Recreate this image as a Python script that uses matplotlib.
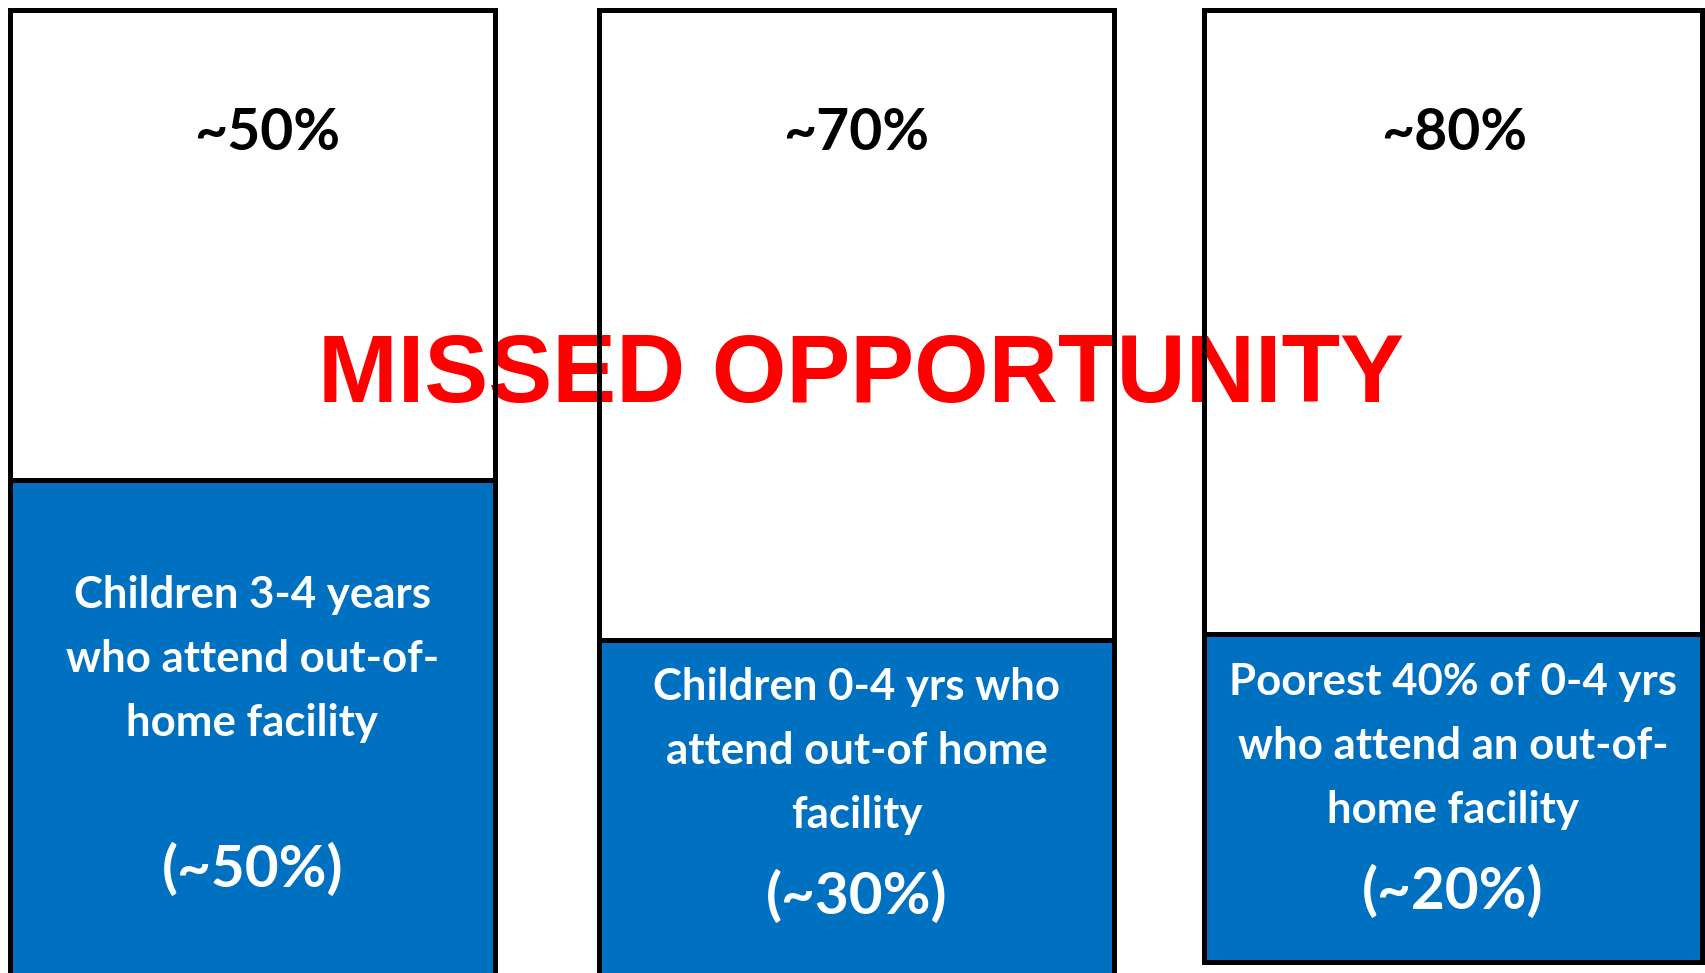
import matplotlib
matplotlib.use("Agg")
import matplotlib.pyplot as plt

# ---- data ----
missed_share = ["~50%", "~70%", "~80%"]
attend_labels = [
    "Children 3-4 years\nwho attend out-of-\nhome facility",
    "Children 0-4 yrs who\nattend out-of home\nfacility",
    "Poorest 40% of 0-4 yrs\nwho attend an out-of-\nhome facility",
]
attend_share = ["(~50%)", "(~30%)", "(~20%)"]
headline = "MISSED OPPORTUNITY"

# ---- layout (pixel space) ----
W, H = 1705, 973
box_left = [10, 599, 1204]
box_right = [495, 1114, 1702]
box_top = [10, 10, 10]
box_split = [480, 640, 634]
box_bottom = [990, 990, 962]
top_label_x = [267, 856, 1454]
top_label_y = [133, 133, 133]
desc_y = [659, 751, 746]
share_y = [870, 897, 892]

BLUE = "#0070C0"
LW = 3.6

fig = plt.figure(figsize=(W / 100, H / 100), dpi=100)
ax = fig.add_axes([0, 0, 1, 1])
ax.set_xlim(0, W)
ax.set_ylim(H, 0)
ax.axis("off")

centers = [(l + r) / 2 for l, r in zip(box_left, box_right)]
widths = [r - l for l, r in zip(box_left, box_right)]
top_h = [s - t for s, t in zip(box_split, box_top)]
bot_h = [b - s for b, s in zip(box_bottom, box_split)]

# fills
ax.bar(centers, top_h, width=widths, bottom=box_top, color="white", zorder=1, linewidth=0)
ax.bar(centers, bot_h, width=widths, bottom=box_split, color=BLUE, zorder=1, linewidth=0)

# texts
for i in range(3):
    ax.text(top_label_x[i], top_label_y[i], missed_share[i], ha="center", va="center",
            fontsize=41, fontweight="bold", family="Lato", color="black", zorder=2)
    ax.text(centers[i], desc_y[i], attend_labels[i], ha="center", va="center",
            fontsize=31.5, fontweight="bold", family="Lato", color="white",
            linespacing=1.72, zorder=2)
    ax.text(centers[i], share_y[i], attend_share[i], ha="center", va="center",
            fontsize=42, fontweight="bold", family="Lato", color="white", zorder=2)

ax.text(861, 377, headline, ha="center", va="center", fontsize=69, fontweight="bold",
        family="Liberation Sans", color="#FF0000", zorder=2)

# edges on top
ax.bar(centers, top_h, width=widths, bottom=box_top, fill=False, edgecolor="black",
       linewidth=LW, zorder=3)
ax.bar(centers, bot_h, width=widths, bottom=box_split, fill=False, edgecolor="black",
       linewidth=LW, zorder=3)

fig.savefig("out.png", dpi=100)
